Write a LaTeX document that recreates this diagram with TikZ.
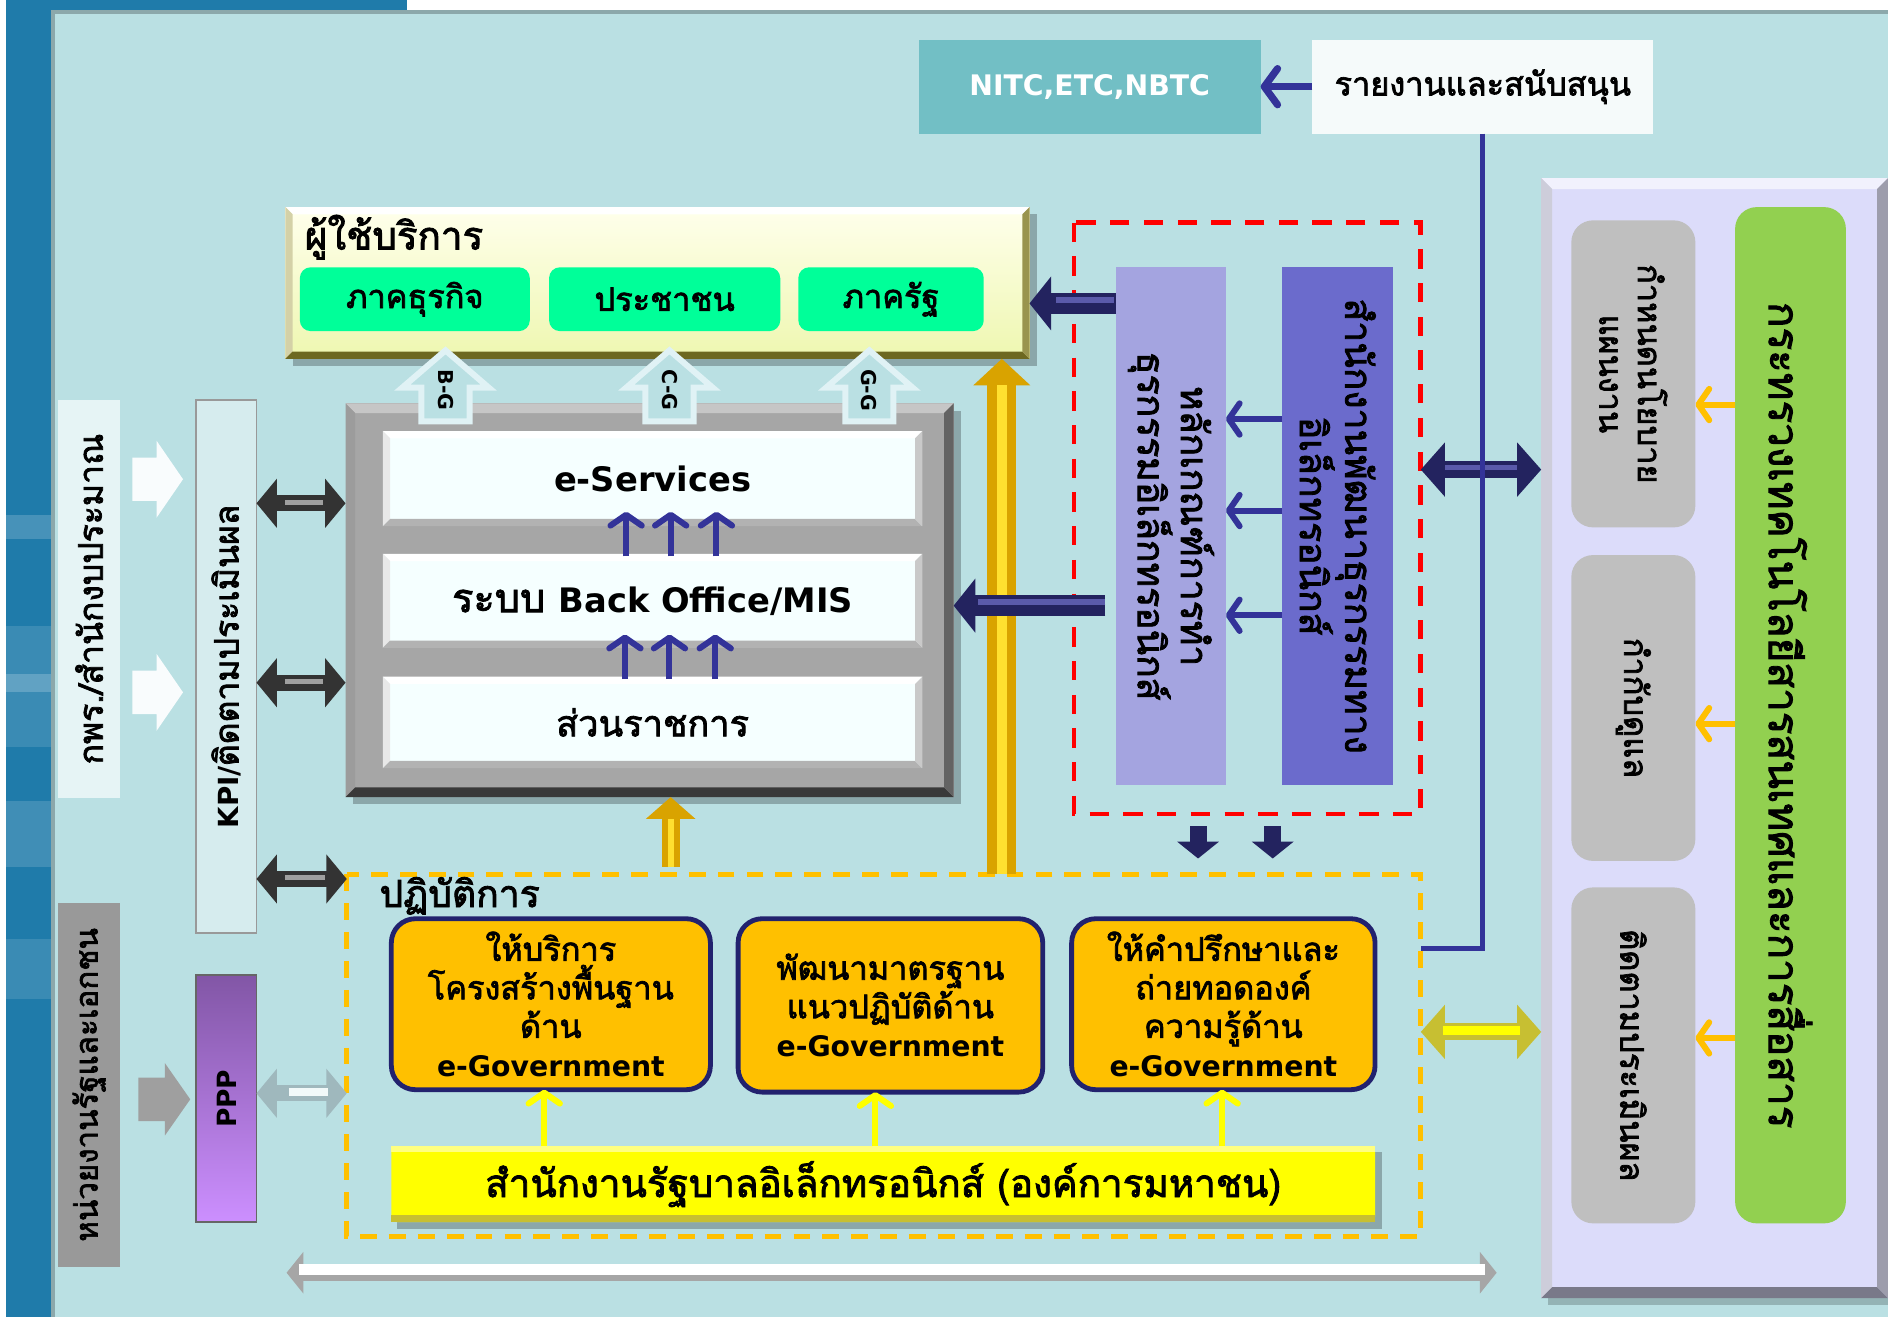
\documentclass[tikz,border=0pt]{standalone}
\usepackage{fontspec}
\setmainfont[Script=Thai,AutoFakeBold=2.2]{Loma}
\newfontfamily\lat{DejaVu Sans}
\usetikzlibrary{arrows.meta,fit,calc}

\definecolor{cPanel}{HTML}{BAE0E3}
\definecolor{cPanelB}{HTML}{8CA8AB}
\definecolor{cLeftBlue}{HTML}{1F7BAA}
\definecolor{cTeal}{HTML}{72BFC5}
\definecolor{cRep}{HTML}{F5FAFA}
\definecolor{cNavy}{HTML}{333399}
\definecolor{cNavyD}{HTML}{23235F}
\definecolor{cNavyL}{HTML}{5A5AAA}
\definecolor{cUsersT}{HTML}{FFFFEC}
\definecolor{cUsersB}{HTML}{EEF7B0}
\definecolor{cSpring}{HTML}{00FF99}
\definecolor{cGrayF}{HTML}{A6A6A6}
\definecolor{cInner}{HTML}{F5FFFF}
\definecolor{cRed}{HTML}{FF0000}
\definecolor{cLPurple}{HTML}{A4A4E0}
\definecolor{cDPurple}{HTML}{6B6BCC}
\definecolor{cLav}{HTML}{DCDCFA}
\definecolor{cGrayBox}{HTML}{BFBFBF}
\definecolor{cGreen}{HTML}{92D050}
\definecolor{cOrange}{HTML}{FFC000}
\definecolor{cOpsB}{HTML}{22226E}
\definecolor{cYellow}{HTML}{FFFF00}
\definecolor{cKPI}{HTML}{D6ECEE}
\definecolor{cKpr}{HTML}{E6F4F5}
\definecolor{cHnw}{HTML}{999999}
\definecolor{cPPPt}{HTML}{8256A6}
\definecolor{cPPPb}{HTML}{CC8FFF}
\definecolor{cGold}{HTML}{D9A300}
\definecolor{cGoldL}{HTML}{FFE030}
\definecolor{cArrowOut}{HTML}{E0F2F5}
\definecolor{cSilver}{HTML}{9FB8BD}

\newcommand\fsz[2]{\fontsize{#1}{#2}\selectfont\bfseries}
\newcommand\mybevel[4]{%
 \colorlet{bvL}{#3}\colorlet{bvD}{#4}%
 \fill[bvL] (#1.north west) -- (#1.north east) -- ([xshift=-#2pt,yshift=-#2pt]#1.north east) -- ([xshift=#2pt,yshift=-#2pt]#1.north west) -- cycle;
 \fill[bvL!70!bvD] (#1.north west) -- ([xshift=#2pt,yshift=-#2pt]#1.north west) -- ([xshift=#2pt,yshift=#2pt]#1.south west) -- (#1.south west) -- cycle;
 \fill[bvD] (#1.south west) -- ([xshift=#2pt,yshift=#2pt]#1.south west) -- ([xshift=-#2pt,yshift=#2pt]#1.south east) -- (#1.south east) -- cycle;
 \fill[bvD!70!bvL] (#1.south east) -- ([xshift=-#2pt,yshift=#2pt]#1.south east) -- ([xshift=-#2pt,yshift=-#2pt]#1.north east) -- (#1.north east) -- cycle;
}

\begin{document}
\begin{tikzpicture}[x=1pt,y=-1pt,
  bx/.style={inner sep=0pt,outer sep=0pt},
  lbl/.style={inner sep=0pt,align=center,text=black},
  thinarr/.style={line width=5pt,-{Straight Barb[round,length=9pt,width=26pt]}},
  navyfat/.style={line width=#1,cNavyD,-{Triangle[length=18pt,width=44pt]}},
  opsbox/.style={bx,fill=cOrange,draw=cOpsB,line width=4pt,rounded corners=20pt},
  graybox/.style={bx,fill=cGrayBox,rounded corners=18pt},
  dbl/.style={line width=13pt,{Triangle[length=17pt,width=40pt]}-{Triangle[length=17pt,width=40pt]}},
]
\useasboundingbox (0,0) rectangle (1568,1094);
% ---------------- background
\fill[white] (0,0) rectangle (1568,1094);
\fill[cLeftBlue] (5,0) rectangle (44,1094);
\fill[cLeftBlue] (5,0) rectangle (338,9);
\fill[white,opacity=.18] (5,428) rectangle (44,448);
\fill[white,opacity=.12] (5,520) rectangle (44,620);
\fill[white,opacity=.2] (5,560) rectangle (44,575);
\fill[white,opacity=.15] (5,665) rectangle (44,720);
\fill[white,opacity=.12] (5,780) rectangle (44,830);
\fill[cPanelB] (42,8) rectangle (1568,1094);
\fill[cPanel] (46,12) rectangle (1568,1094);

% ---------------- top boxes
\node[bx,fill=cTeal,fit={(763,33)(1047,111)}] (nitc) {};
\node[lbl,text=white,font=\lat\fsz{23.5}{28}] (nitct) at (nitc.center) {NITC,ETC,NBTC};
\node[bx,fill=cRep,fit={(1090,33)(1373,111)}] (rep) {};
\node[lbl,font=\fsz{27}{32}] (rept) at (rep.center) {รายงานและสนับสนุน};
\draw[cNavy,line width=6pt,-{Straight Barb[round,length=11pt,width=30pt]}] (rep.west) -- (nitc.east);

% ---------------- users panel
\fill[black,opacity=.25] (243,178) rectangle (861,304);
\node[bx,top color=cUsersT,bottom color=cUsersB,fit={(237,172)(855,298)}] (users) {};
\mybevel{users}{6}{white}{olive!70!black}
\node[lbl,anchor=west,font=\fsz{32}{36}] (userst) at (253,197) {ผู้ใช้บริการ};
\node[bx,fill=cSpring,rounded corners=9pt,fit={(249,222)(440,275)}] (biz) {};
\node[lbl,font=\fsz{27}{32}] (bizt) at (biz.center) {ภาคธุรกิจ};
\node[bx,fill=cSpring,rounded corners=9pt,fit={(456,222)(648,275)}] (cit) {};
\node[lbl,font=\fsz{27}{32}] (citt) at (cit.center) {ประชาชน};
\node[bx,fill=cSpring,rounded corners=9pt,fit={(663,222)(817,275)}] (gov) {};
\node[lbl,font=\fsz{27}{32}] (govt) at (gov.center) {ภาครัฐ};

% ---------------- gray frame
\fill[black,opacity=.25] (293,341) rectangle (798,668);
\node[bx,fill=cGrayF,fit={(287,335)(792,662)}] (frame) {};
\mybevel{frame}{8}{gray!45}{gray!45!black}
\node[bx,fill=cInner,fit={(318,358)(766,437)}] (eserv) {};
\mybevel{eserv}{6}{white}{gray!60}
\node[lbl,font=\lat\fsz{28}{32}] (eservt) at (eserv.center) {e-Services};
\node[bx,fill=cInner,fit={(318,460)(766,538)}] (back) {};
\mybevel{back}{6}{white}{gray!60}
\node[lbl,font=\fsz{33}{36}] (backt) at (back.center) {ระบบ {\lat\bfseries\fontsize{28}{32}\selectfont Back Office/MIS}};
\node[bx,fill=cInner,fit={(318,562)(766,638)}] (agency) {};
\mybevel{agency}{6}{white}{gray!60}
\node[lbl,font=\fsz{30}{34}] (agencyt) at (agency.center) {ส่วนราชการ};
\foreach \x in {520,557,595}{
  \draw[cNavy,thinarr] (\x,462) -- (\x,425);
  \draw[cNavy,thinarr] (\x-1,564) -- (\x-1,527);
}

% ---------------- B-G C-G G-G arrows
\foreach \cx/\lab/\nm in {370/B-G/bg,556/C-G/cg,722/G-G/gg}{
  \draw[cArrowOut,line width=5pt,fill=cPanel,line join=miter]
    (\cx,291) -- (\cx+36,322) -- (\cx+20,322) -- (\cx+20,350) -- (\cx-20,350) -- (\cx-20,322) -- (\cx-36,322) -- cycle;
  \node[lbl,rotate=-90,font=\lat\fsz{17}{20}] (\nm) at (\cx,324) {\lab};
}

% ---------------- left column
\node[bx,fill=cKpr,fit={(48,332)(100,663)}] (kpr) {};
\node[lbl,rotate=90,font=\fsz{28}{32}] (kprt) at (kpr.center) {กพร./สำนักงบประมาณ};
\node[bx,fill=cKPI,draw=gray!80,line width=1.5pt,fit={(163,332)(213,775)}] (kpi) {};
\node[lbl,rotate=90,font=\fsz{28}{32}] (kpit) at (kpi.center) {{\lat\bfseries\fontsize{23}{28}\selectfont KPI/}ติดตามประเมินผล};
\foreach \y in {398,575}{
  \fill[white!92!cPanel] (110,\y-18) -- (130,\y-18) -- (130,\y-32) -- (152,\y) -- (130,\y+32) -- (130,\y+18) -- (110,\y+18) -- cycle;
}
\node[bx,fill=cHnw,fit={(48,750)(100,1052)}] (hnw) {};
\node[lbl,rotate=90,font=\fsz{26}{30}] (hnwt) at (hnw.center) {หน่วยงานรัฐและเอกชน};
\fill[gray!75] (115,895) -- (137,895) -- (137,883) -- (158,913) -- (137,943) -- (137,931) -- (115,931) -- cycle;
\node[bx,top color=cPPPt,bottom color=cPPPb,draw=gray!80!black,line width=1.5pt,fit={(163,810)(213,1015)}] (ppp) {};
\node[lbl,rotate=90,font=\lat\fsz{22}{26}] (pppt) at (ppp.center) {PPP};

% gray double arrows KPI <-> frame
\foreach \y in {418,567}{
  \draw[gray!40!black,dbl] (kpi.east |- 0,\y) -- (frame.west |- 0,\y);
  \draw[gray!75,line width=4pt] (237,\y-1) -- (268,\y-1);
}

% ---------------- operations
\draw[cOrange,line width=4pt,dash pattern=on 14pt off 10pt] (288,726) rectangle (1180,1027);
\node[bx,fit={(288,726)(1180,1027)}] (ops) {};
\node[lbl,anchor=west,font=\fsz{31}{34}] (opst) at (315,744) {ปฏิบัติการ};
\node[opsbox,fit={(325,763)(590,905)}] (op1) {};
\node[lbl,font=\fsz{27}{32}] (op1t) at (op1.center) {ให้บริการ\\โครงสร้างพื้นฐาน\\ด้าน\\{\lat\bfseries\fontsize{23.5}{32}\selectfont e-Government}};
\node[opsbox,fit={(613,763)(866,907)}] (op2) {};
\node[lbl,font=\fsz{27}{32}] (op2t) at (op2.center) {พัฒนามาตรฐาน\\แนวปฏิบัติด้าน\\{\lat\bfseries\fontsize{23.5}{32}\selectfont e-Government}};
\node[opsbox,fit={(890,763)(1142,905)}] (op3) {};
\node[lbl,font=\fsz{27}{32}] (op3t) at (op3.center) {ให้คำปรึกษาและ\\ถ่ายทอดองค์\\ความรู้ด้าน\\{\lat\bfseries\fontsize{23.5}{32}\selectfont e-Government}};
\fill[black,opacity=.25] (330,957) rectangle (1148,1021);
\node[bx,fill=cYellow,rounded corners=5pt,fit={(325,952)(1142,1015)}] (ega) {};
\fill[yellow!75!black] ([yshift=6pt]ega.south west) rectangle (ega.south east);
\fill[white!50!cYellow] (ega.north west) rectangle ([yshift=-5pt]ega.north east);
\node[lbl,font=\fsz{32}{36}] (egat) at (ega.center) {สำนักงานรัฐบาลอิเล็กทรอนิกส์ (องค์การมหาชน)};
\foreach \x/\b in {452/op1,727/op2,1015/op3}{
  \draw[cYellow,thinarr] (\x,0 |- ega.north) -- (\x,0 |- \b.south);
}

% KPI <-> ops, PPP <-> ops
\draw[gray!40!black,dbl] (kpi.east |- 0,730) -- (ops.west |- 0,730);
\draw[gray!75,line width=4pt] (237,729) -- (270,729);
\draw[cSilver,dbl] (ppp.east |- 0,908) -- (ops.west |- 0,908);
\draw[white!80!cPanel,line width=7pt] (240,907) -- (272,907);

% bottom long white arrow
\coordinate (wl) at (238,1055);
\coordinate (wr) at (1243,1055);
\draw[gray!70,line width=14pt,{Triangle[length=14pt,width=34pt]}-{Triangle[length=14pt,width=34pt]}] ([yshift=-2pt]wl) -- ([yshift=-2pt]wr);
\draw[white,line width=9pt,shorten <=10pt,shorten >=10pt] ([yshift=1pt]wl) -- ([yshift=1pt]wr);

% gold arrows
\coordinate (gs) at (557,720);
\draw[cGold,line width=15pt,-{Triangle[length=18pt,width=40pt]}] (gs) -- (gs |- frame.south);
\draw[cGoldL,line width=5pt,shorten >=18pt] (gs) -- (gs |- frame.south);
\coordinate (gl) at (832,0 |- ops.north);
\draw[cGold,line width=24pt,-{Triangle[length=22pt,width=46pt]}] (gl) -- (gl |- users.south);
\draw[cGoldL,line width=8pt,shorten >=22pt] (gl) -- (gl |- users.south);

% ---------------- red dashed box
\draw[cRed,line width=4pt,dash pattern=on 16pt off 12pt] (892,185) rectangle (1180,676);
\node[bx,fit={(892,185)(1180,676)}] (redb) {};
\node[bx,fill=cLPurple,fit={(927,222)(1018,652)}] (rules) {};
\node[lbl,rotate=-90,font=\fsz{31}{36}] (rulest) at (rules.center) {หลักเกณฑ์การทำ\\ธุรกรรมอิเล็กทรอนิกส์};
\node[bx,fill=cDPurple,fit={(1065,222)(1157,652)}] (etda) {};
\node[lbl,rotate=-90,font=\fsz{31}{36}] (etdat) at (etda.center) {สำนักงานพัฒนาธุรกรรมทาง\\อิเล็กทรอนิกส์};
\foreach \y in {348,424,511}{
  \draw[cNavy,thinarr] (etda.west |- 0,\y) -- (rules.east |- 0,\y);
}
\draw[navyfat=18pt] (rules.west |- 0,252) -- (users.east |- 0,252);
\draw[cNavyL,line width=5pt,shorten >=20pt] (925,249) -- (857,249);
\draw[navyfat=18pt] (918,503) -- (frame.east |- 0,503);
\draw[cNavyL,line width=5pt,shorten >=20pt] (918,500) -- (792,500);
\foreach \x in {995,1057}{
  \draw[cNavyD,line width=14pt,-{Triangle[length=14pt,width=34pt]}] (\x,686) -- (\x,713);
}

% ---------------- right panel
\fill[black,opacity=.2] (1286,154) rectangle (1568,1084);
\node[bx,fill=cLav,fit={(1280,148)(1568,1078)}] (mict) {};
\mybevel{mict}{9}{white!60!cLav}{cLav!55!black}
\node[graybox,fit={(1305,183)(1408,438)}] (g1) {};
\node[lbl,rotate=-90,font=\fsz{27}{32}] (g1t) at (g1.center) {กำหนดนโยบาย\\แผนงาน};
\node[graybox,fit={(1305,461)(1408,715)}] (g2) {};
\node[lbl,rotate=-90,font=\fsz{27}{32}] (g2t) at (g2.center) {กำกับดูแล};
\node[graybox,fit={(1305,737)(1408,1016)}] (g3) {};
\node[lbl,rotate=-90,font=\fsz{27}{32}] (g3t) at (g3.center) {ติดตามประเมินผล};
\node[bx,fill=cGreen,rounded corners=18pt,fit={(1441,172)(1533,1016)}] (green) {};
\node[lbl,rotate=-90,font=\fsz{35}{40}] (greent) at (green.center) {กระทรวงเทคโนโลยีสารสนเทศและการสื่อสาร};
\foreach \y/\g in {336/g1,601/g2,862/g3}{
  \draw[cOrange,thinarr] (green.west |- 0,\y) -- (\g.east |- 0,\y);
}

% connectors right
\draw[cNavyD,line width=14pt,{Triangle[length=20pt,width=44pt]}-{Triangle[length=20pt,width=44pt]}] (redb.east |- 0,390) -- (mict.west |- 0,390);
\draw[cNavyL,line width=4pt,shorten <=20pt,shorten >=20pt] (1180,388) -- (1280,388);
\draw[yellow!75!black,line width=14pt,{Triangle[length=20pt,width=44pt]}-{Triangle[length=20pt,width=44pt]}] (ops.east |- 0,857) -- (mict.west |- 0,857);
\draw[cYellow,line width=7pt,shorten <=18pt,shorten >=18pt] (1180,856) -- (1280,856);

% report line
\coordinate (bend) at (1231,788);
\draw[cNavy,line width=4pt] (rep.south -| bend) -- (bend) -- (ops.east |- bend);
\end{tikzpicture}
\end{document}
